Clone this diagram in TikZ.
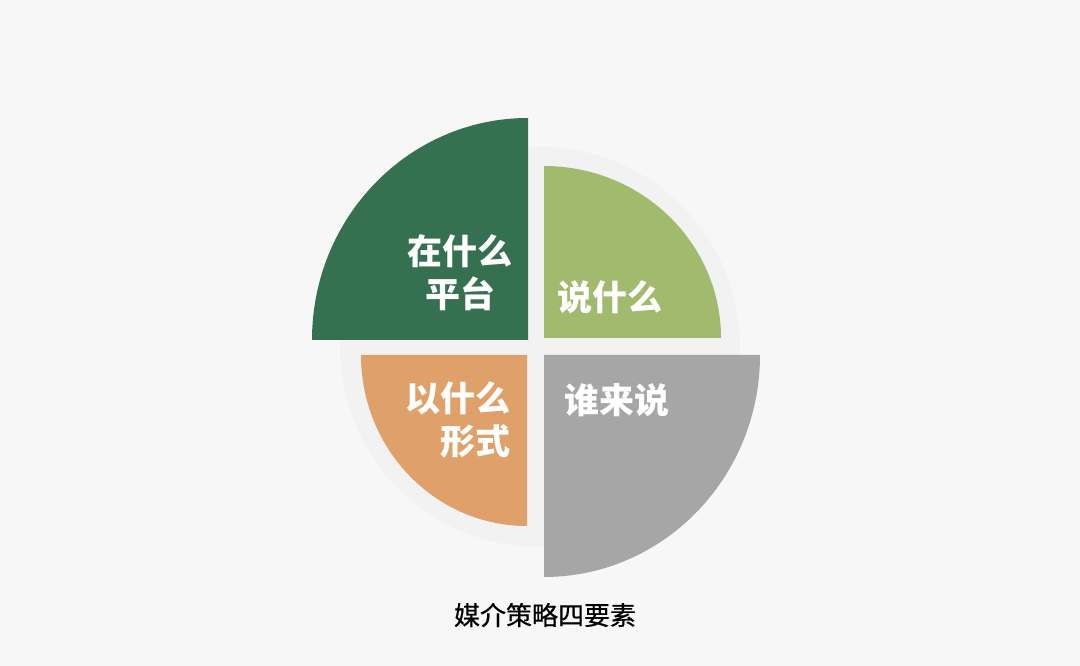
\documentclass[tikz,border=0pt]{standalone}
\usepackage{fontspec}
\newfontfamily\cjk{Noto Sans CJK SC}
\newfontfamily\cjkmed{Noto Sans CJK SC}[FakeBold=0.6]
\definecolor{bgc}{HTML}{F7F7F7}
\definecolor{ringc}{HTML}{F2F2F2}
\definecolor{dgreen}{HTML}{357150}
\definecolor{lgreen}{HTML}{A1BA6E}
\definecolor{orangec}{HTML}{E0A06A}
\definecolor{grayc}{HTML}{A6A6A6}
\tikzset{
  lbl/.style={text=white, inner sep=0pt, font=\cjk\bfseries\fontsize{35}{43}\selectfont},
  ttl/.style={text=black, inner sep=0pt, font=\cjkmed\fontsize{26}{30}\selectfont}
}
\begin{document}
\begin{tikzpicture}[x=1pt,y=1pt]
\fill[bgc] (0,0) rectangle (1080,666);
\useasboundingbox (0,0) rectangle (1080,666);
\fill[ringc] (540,319) circle[radius=200pt];
\fill[dgreen] (528,326) -- ++(-216,0) arc[start angle=180,end angle=90,x radius=216pt,y radius=222pt] -- cycle;
\fill[lgreen] (544,328) -- ++(0,172) arc[start angle=90,end angle=0,x radius=177pt,y radius=172pt] -- cycle;
\fill[orangec] (527,311) -- ++(-166,0) arc[start angle=180,end angle=270,x radius=166pt,y radius=171pt] -- cycle;
\fill[grayc] (544,311) -- ++(216,0) arc[start angle=0,end angle=-90,x radius=216pt,y radius=222pt] -- cycle;
\node[lbl, align=center] (platform) at (460,393.5) {在什么\\平台};
\node[lbl] (what) at (610,369) {说什么};
\node[lbl, align=right, anchor=east] (form) at (511,246) {以什么\\形式};
\node[lbl] (who) at (617,266) {谁来说};
\node[ttl] (title) at (545,51) {媒介策略四要素};
\end{tikzpicture}
\end{document}
